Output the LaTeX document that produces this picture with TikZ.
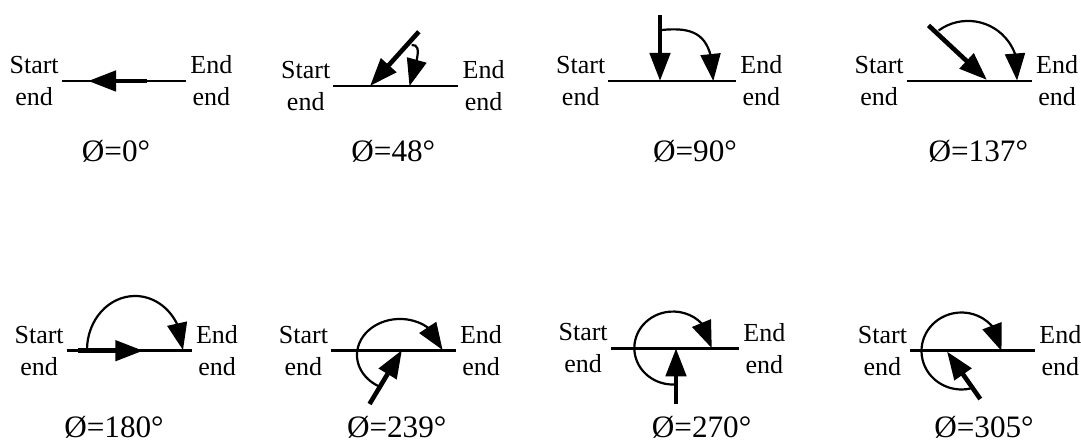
\documentclass[tikz,border=0pt]{standalone}
\usepackage{fontspec}
\setmainfont{Liberation Serif}
\usetikzlibrary{arrows.meta, bending}

\begin{document}
\begin{tikzpicture}[
  x=0.5pt, y=0.5pt,
  tag/.style={align=center, inner xsep=1.3pt, inner ysep=0pt, font=\fontsize{13pt}{16pt}\selectfont},
  etag/.style={tag, anchor=west, inner xsep=2pt},
  stag/.style={tag, anchor=east},
  ang/.style={anchor=base, inner sep=0pt, font=\fontsize{15.6pt}{18pt}\selectfont},
  ln/.style={line width=1.4pt},
  vec/.style={line width=2.3pt, -{Triangle[length=14pt, width=10pt]}},
  swp/.style={line width=1.1pt, -{Triangle[flex, length=13.5pt, width=10pt]}}
]
\useasboundingbox (0,0) rectangle (1081,443);

% top row
\node[stag] (s1) at (61.7,362) {Start\\end};
\node[etag] (e1) at (186,362) {End\\end};
\draw[ln] (s1) -- (e1);
\coordinate (p1) at (88,362);
\coordinate (q1) at (147,362);
\draw[vec] (q1) -- (p1);
\node[ang] (l1) at (116,281) {Ø=0°};

\node[stag] (s2) at (333.3,357) {Start\\end};
\node[etag] (e2) at (458.3,357) {End\\end};
\draw[ln] (s2) -- (e2);
\coordinate (p2) at (370,357);
\path (p2) ++(48:73) coordinate (q2);
\draw[vec] (q2) -- (p2);
\coordinate (a2) at (411.7,398);
\coordinate (t2) at (409.5,357);
\draw[swp] (a2) .. controls +(9,0.5) and +(10,32) .. (t2);
\node[ang] (l2) at (393.3,281) {Ø=48°};

\node[stag] (s3) at (608.3,362) {Start\\end};
\node[etag] (e3) at (736,362) {End\\end};
\draw[ln] (s3) -- (e3);
\coordinate (p3) at (660,362);
\path (p3) ++(90:66) coordinate (q3);
\draw[vec] (q3) -- (p3);
\coordinate (a3) at (661.7,413);
\coordinate (t3) at (713.3,362);
\draw[swp] (a3) .. controls +(32,3) and +(0,48) .. (t3);
\node[ang] (l3) at (695,281) {Ø=90°};

\node[stag] (s4) at (906.7,362) {Start\\end};
\node[etag] (e4) at (1031.7,362) {End\\end};
\draw[ln] (s4) -- (e4);
\coordinate (p4) at (987,363);
\path (p4) ++(137:80) coordinate (q4);
\draw[vec] (q4) -- (p4);
\coordinate (a4) at (938.6,412.5);
\draw[swp] (a4) arc[start angle=126, end angle=-11, radius=50];
\node[ang] (l4) at (978.3,281) {Ø=137°};

% bottom row
\node[stag] (s5) at (66.7,92.3) {Start\\end};
\node[etag] (e5) at (191.7,92.3) {End\\end};
\draw[ln] (s5) -- (e5);
\coordinate (q5) at (78.3,92.3);
\coordinate (p5) at (143.3,92.3);
\draw[vec] (q5) -- (p5);
\coordinate (a5) at (87,93);
\draw[swp] (a5) arc[start angle=180, end angle=0, x radius=48, y radius=54];
\node[ang] (l5) at (114,5) {Ø=180°};

\node[stag] (s6) at (331,92.3) {Start\\end};
\node[etag] (e6) at (455.7,92.3) {End\\end};
\draw[ln] (s6) -- (e6);
\coordinate (p6) at (402,93);
\path (p6) ++(239:63) coordinate (q6);
\draw[vec] (q6) -- (p6);
\coordinate (a6) at (381.8,55.4);
\draw[swp] (a6) arc[start angle=245, end angle=8, x radius=43, y radius=36];
\node[ang] (l6) at (396.7,5) {Ø=239°};

\node[stag] (s7) at (610.7,94.7) {Start\\end};
\node[etag] (e7) at (739,94.7) {End\\end};
\draw[ln] (s7) -- (e7);
\coordinate (p7) at (676,94.7);
\path (p7) ++(270:56) coordinate (q7);
\draw[vec] (q7) -- (p7);
\coordinate (a7) at (676.4,58.6);
\draw[swp] (a7) arc[start angle=275, end angle=0, x radius=38.7, y radius=36.5];
\node[ang] (l7) at (701.6,5) {Ø=270°};

\node[stag] (s8) at (910,92.3) {Start\\end};
\node[etag] (e8) at (1035,92.3) {End\\end};
\draw[ln] (s8) -- (e8);
\coordinate (p8) at (947,91.5);
\path (p8) ++(305:58) coordinate (q8);
\draw[vec] (q8) -- (p8);
\coordinate (a8) at (970.5,54.5);
\draw[swp] (a8) arc[start angle=283, end angle=0, x radius=40, y radius=38.5];
\node[ang] (l8) at (984,5) {Ø=305°};

\end{tikzpicture}
\end{document}
